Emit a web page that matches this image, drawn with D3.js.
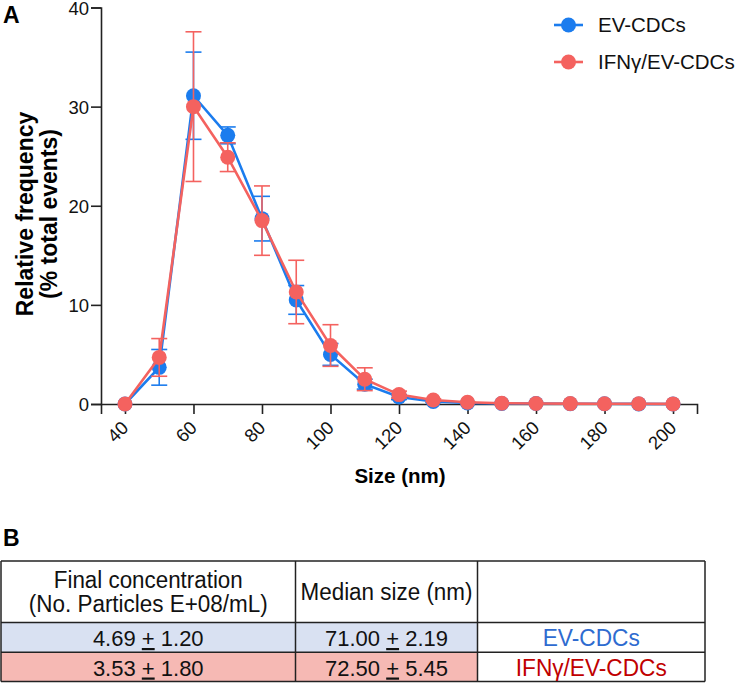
<!DOCTYPE html>
<html><head><meta charset="utf-8">
<script src="https://cdn.jsdelivr.net/npm/d3@7"></script>
<style>
body{margin:0;background:#fff;}
svg text{font-family:"Liberation Sans",Arial,sans-serif;}
</style></head>
<body><svg id="c" width="739" height="683"></svg>
<script>
const sizes = [40,50,60,70,80,90,100,110,120,130,140,150,160,170,180,190,200];
const evMean = [0,3.7,31.1,27.1,18.7,10.5,5.0,2.0,0.7,0.25,0.1,0.05,0.05,0.03,0.02,0.01,0];
const evErr  = [0,1.8,4.4,0.85,2.25,1.45,1.1,0.5,0.25,0.1,0,0,0,0,0,0,0];
const ifnMean = [0,4.7,30.0,24.9,18.5,11.3,5.9,2.5,0.95,0.4,0.18,0.08,0.05,0.04,0.03,0.02,0.01];
const ifnErr  = [0,1.9,7.55,1.45,3.5,3.2,2.1,1.15,0.35,0.12,0.05,0,0,0,0,0,0];
const xTicks = [40,60,80,100,120,140,160,180,200];
const yTicks = [0,10,20,30,40];
const seriesNames = ["EV-CDCs","IFNγ/EV-CDCs"];
const seriesColors = ["#1B7CEE","#F4625F"];
const tableHeader = [["Final concentration","(No. Particles E+08/mL)"],["Median size (nm)"],[""]];
const concMean = ["4.69","3.53"];
const concSD = ["1.20","1.80"];
const medMean = ["71.00","72.50"];
const medSD = ["2.19","5.45"];
const rowFills = ["#D9E1F2","#F6B9B4"];
const rowTextColors = ["#2E6BD0","#C00000"];

const svg = d3.select("#c");
const x = d3.scaleLinear().domain([33,207]).range([101,697]);
const y = d3.scaleLinear().domain([0,40]).range([404,7.5]);

// panel letters
svg.append("text").attr("x",3).attr("y",23).attr("font-size",23).attr("font-weight","bold").text("A");
svg.append("text").attr("x",3).attr("y",546).attr("font-size",23).attr("font-weight","bold").text("B");

// axes
const yAxis = svg.append("g").attr("transform","translate(101,0)")
  .call(d3.axisLeft(y).tickValues(yTicks).tickSize(10).tickPadding(2).tickFormat(d3.format("d")));
const xAxis = svg.append("g").attr("transform","translate(0,404)")
  .call(d3.axisBottom(x).tickValues(xTicks).tickSize(10).tickFormat(d3.format("d")));
[yAxis,xAxis].forEach(g=>{
  g.select(".domain").attr("stroke","#222").attr("stroke-width",1.6);
  g.selectAll(".tick line").attr("stroke","#222").attr("stroke-width",1.6);
  g.selectAll(".tick text").attr("font-size",18.5).attr("fill","#111").attr("font-family","Liberation Sans, Arial, sans-serif");
});
yAxis.selectAll(".tick text").attr("dy","0.36em");
xAxis.selectAll(".tick text").attr("text-anchor","end").attr("dy",0).attr("y",0)
  .attr("transform","translate(4,25) rotate(-45)");

// axis titles
svg.append("text").attr("x",400).attr("y",483).attr("text-anchor","middle")
  .attr("font-size",20.5).attr("font-weight","bold").text("Size (nm)");
const yl = svg.append("text").attr("transform","translate(33,214) rotate(-90)")
  .attr("text-anchor","middle").attr("font-size",23).attr("font-weight","bold");
yl.append("tspan").attr("x",0).attr("dy",0).text("Relative frequency");
yl.append("tspan").attr("x",0).attr("dy",23.5).text("(% total events)");

// series
const allSeries = [evMean, ifnMean].map((m,i)=>({name:seriesNames[i], color:seriesColors[i], mean:m, err:[evErr,ifnErr][i]}));
const line = d3.line().x((d,i)=>x(sizes[i])).y(d=>y(d));
allSeries.forEach(s=>{
  const g = svg.append("g");
  const eb = g.append("g").attr("stroke",s.color).attr("stroke-width",1.6).attr("fill","none");
  s.mean.forEach((m,i)=>{
    const e = s.err[i]; if(!e) return;
    const cx = x(sizes[i]);
    eb.append("line").attr("x1",cx).attr("x2",cx).attr("y1",y(m+e)).attr("y2",y(m-e));
    eb.append("line").attr("x1",cx-8).attr("x2",cx+8).attr("y1",y(m+e)).attr("y2",y(m+e));
    eb.append("line").attr("x1",cx-8).attr("x2",cx+8).attr("y1",y(m-e)).attr("y2",y(m-e));
  });
  g.append("path").datum(s.mean).attr("d",line).attr("fill","none").attr("stroke",s.color).attr("stroke-width",2.6);
  g.selectAll("circle").data(s.mean).join("circle")
    .attr("cx",(d,i)=>x(sizes[i])).attr("cy",d=>y(d)).attr("r",7.5).attr("fill",s.color);
});

// legend
allSeries.forEach((s,i)=>{
  const ly = 25 + i*37;
  svg.append("line").attr("x1",554).attr("x2",583).attr("y1",ly).attr("y2",ly).attr("stroke",s.color).attr("stroke-width",2.6);
  svg.append("circle").attr("cx",568.5).attr("cy",ly).attr("r",7.5).attr("fill",s.color);
  svg.append("text").attr("x",598).attr("y",ly+7).attr("font-size",20.5).attr("fill","#111").text(s.name);
});

// table
const colX = [1,295.5,477.5,705];
const rowY = [561,622.5,652.3,681.5];
const tg = svg.append("g");
[0,1].forEach(r=>{
  [0,1].forEach(c=>{
    tg.append("rect").attr("x",colX[c]).attr("y",rowY[r+1]).attr("width",colX[c+1]-colX[c]).attr("height",rowY[r+2]-rowY[r+1]).attr("fill",rowFills[r]);
  });
});
rowY.forEach(v=>tg.append("line").attr("x1",colX[0]).attr("x2",colX[3]).attr("y1",v).attr("y2",v).attr("stroke","#222").attr("stroke-width",1.5));
colX.forEach(v=>tg.append("line").attr("x1",v).attr("x2",v).attr("y1",rowY[0]).attr("y2",rowY[3]).attr("stroke","#222").attr("stroke-width",1.5));

const tfs = 23.5;
function cellText(cx, by, str, len, color){
  return tg.append("text").attr("x",cx).attr("y",by).attr("text-anchor","middle").attr("font-size",tfs)
    .attr("fill",color||"#111").attr("textLength",len).attr("lengthAdjust","spacingAndGlyphs").text(str);
}
cellText((colX[0]+colX[1])/2, 588, tableHeader[0][0], 189);
cellText((colX[0]+colX[1])/2, 612, tableHeader[0][1], 239);
cellText((colX[1]+colX[2])/2, 600, tableHeader[1][0], 172);
function pmText(cx, by, a, b){
  const t = tg.append("text").attr("x",cx).attr("y",by).attr("text-anchor","middle").attr("font-size",22)
    .attr("fill","#111");
  t.append("tspan").text(a+" ");
  t.append("tspan").attr("text-decoration","underline").text("+");
  t.append("tspan").text(" "+b);
}
[0,1].forEach(r=>{
  const by = r===0 ? 646 : 675.5;
  pmText((colX[0]+colX[1])/2, by, concMean[r], concSD[r]);
  pmText((colX[1]+colX[2])/2, by, medMean[r], medSD[r]);
  cellText((colX[2]+colX[3])/2, by, seriesNames[r], r===0?97:151, rowTextColors[r]);
});
</script></body></html>
